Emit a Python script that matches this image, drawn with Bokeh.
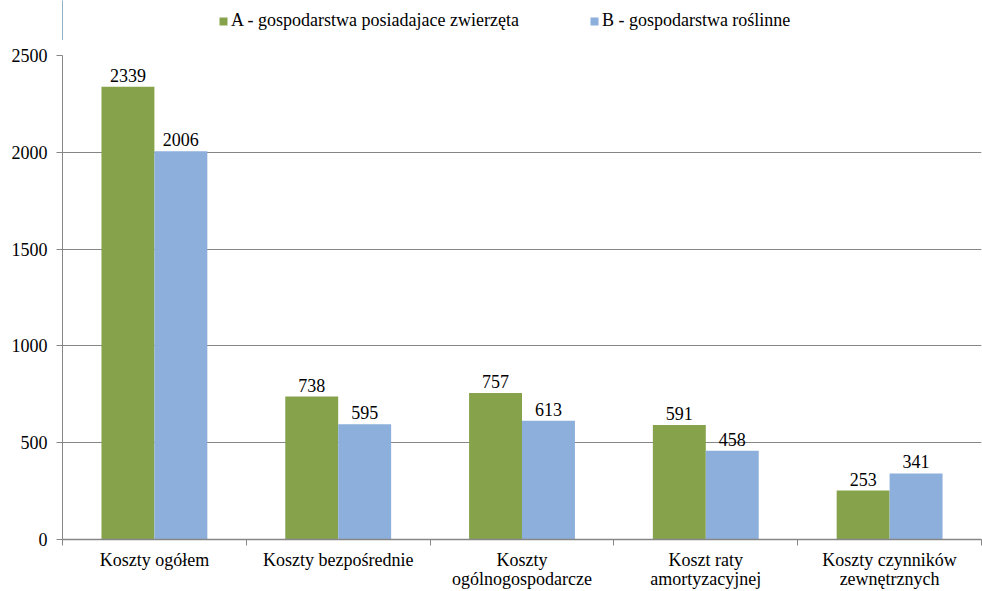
from bokeh.plotting import figure
from bokeh.models import ColumnDataSource, FixedTicker, Legend, LegendItem, Range1d
from bokeh.layouts import column
from bokeh.embed import file_html
from bokeh.resources import INLINE
from bokeh.core.properties import value

categories = ["Koszty ogółem", "Koszty bezpośrednie", "Koszty\nogólnogospodarcze",
              "Koszt raty\namortyzacyjnej", "Koszty czynników\nzewnętrznych"]
series_a = [2339, 738, 757, 591, 253]
series_b = [2006, 595, 613, 458, 341]
name_a = "A - gospodarstwa posiadajace zwierzęta"
name_b = "B - gospodarstwa roślinne"
y_ticks = [0, 500, 1000, 1500, 2000, 2500]

FONT = "Times New Roman"
GREEN = "#86a34c"
BLUE = "#8dafdb"
GRID = "#868686"

n = len(categories)
centers = [i + 0.5 for i in range(n)]
bw = 0.288
xa = [c - bw / 2 for c in centers]
xb = [c + bw / 2 for c in centers]

src = ColumnDataSource(dict(xa=xa, xb=xb, a=series_a, b=series_b,
                            la=[str(v) for v in series_a], lb=[str(v) for v in series_b]))

# ---- legend strip (its own small figure so nothing is clipped) ----
# the strip views a range where no bar lies, so only the legend shows
leg = figure(width=982, height=40, output_backend="svg", toolbar_location=None,
             x_range=Range1d(100, 101), y_range=Range1d(100, 101),
             min_border_left=0, min_border_right=0, min_border_top=0, min_border_bottom=0)
leg.axis.visible = False
leg.grid.visible = False
leg.outline_line_color = None
la_r = leg.vbar(x="xa", top="a", width=bw, source=src, fill_color=GREEN, line_color=None)
lb_r = leg.vbar(x="xb", top="b", width=bw, source=src, fill_color=BLUE, line_color=None)
legend = Legend(items=[LegendItem(label=name_a, renderers=[la_r]),
                       LegendItem(label=name_b, renderers=[lb_r])],
                orientation="horizontal", location=(156, 9),
                label_text_font=FONT, label_text_font_size="18px", label_text_color="black",
                glyph_width=10, glyph_height=10, label_standoff=3, spacing=70,
                label_height=20,
                border_line_color=None, background_fill_alpha=0,
                padding=0, margin=0)
leg.add_layout(legend, "center")

# ---- main chart ----
p = figure(width=982, height=551, output_backend="svg", toolbar_location=None,
           x_range=Range1d(0, n), y_range=Range1d(0, 2500),
           min_border_left=62, min_border_right=1, min_border_top=15, min_border_bottom=51)
p.outline_line_color = None
p.background_fill_color = "white"

ra = p.vbar(x="xa", top="a", width=bw, source=src, fill_color=GREEN, line_color=None)
rb = p.vbar(x="xb", top="b", width=bw, source=src, fill_color=BLUE, line_color=None)

p.text(x="xa", y="a", text="la", source=src, text_align="center", text_baseline="bottom",
       y_offset=-5, text_font=value(FONT), text_font_size="18px", text_color="black")
p.text(x="xb", y="b", text="lb", source=src, text_align="center", text_baseline="bottom",
       y_offset=-5, text_font=value(FONT), text_font_size="18px", text_color="black")

# y axis
p.yaxis.ticker = FixedTicker(ticks=y_ticks)
p.yaxis.axis_line_color = GRID
p.yaxis.major_tick_line_color = GRID
p.yaxis.major_tick_out = 6
p.yaxis.major_tick_in = 0
p.yaxis.minor_tick_line_color = None
p.yaxis.major_label_text_font = FONT
p.yaxis.major_label_text_font_size = "18px"
p.yaxis.major_label_text_color = "black"
p.yaxis.major_label_standoff = 9

# x axis: labels at category centres, ticks at category boundaries
p.xaxis.ticker = FixedTicker(ticks=centers, minor_ticks=list(range(n + 1)))
p.xaxis.major_label_overrides = {c: lab for c, lab in zip(centers, categories)}
p.xaxis.axis_line_color = GRID
p.xaxis.axis_line_width = 1.5
p.xaxis.major_tick_line_color = None
p.xaxis.major_tick_out = 0
p.xaxis.major_tick_in = 0
p.xaxis.minor_tick_line_color = GRID
p.xaxis.minor_tick_out = 6
p.xaxis.minor_tick_in = 0
p.xaxis.major_label_text_font = FONT
p.xaxis.major_label_text_font_size = "18px"
p.xaxis.major_label_text_line_height = 0.95
p.xaxis.major_label_text_color = "black"
p.xaxis.major_label_standoff = 4

p.xgrid.grid_line_color = None
p.ygrid.ticker = FixedTicker(ticks=y_ticks)
p.ygrid.grid_line_color = GRID
p.ygrid.grid_line_width = 1

layout = column(leg, p, spacing=0)
open("out.html", "w").write(file_html(layout, INLINE))
